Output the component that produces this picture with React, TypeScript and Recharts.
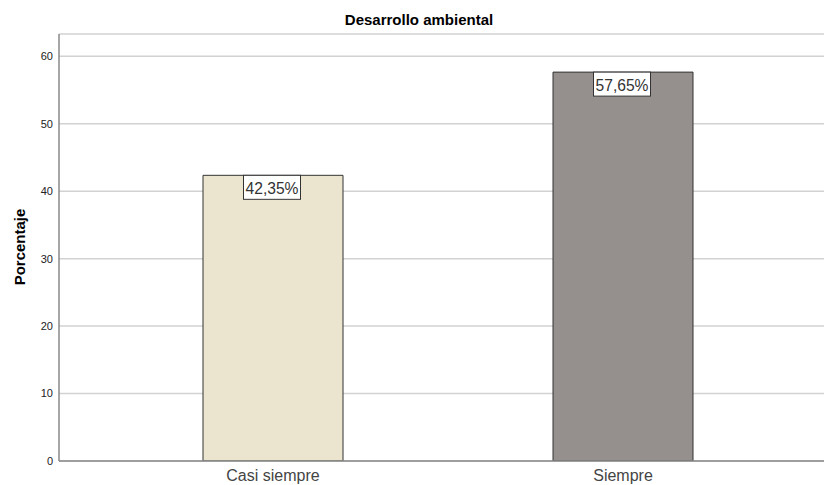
import React from 'react';
import { BarChart, Bar, XAxis, YAxis, CartesianGrid, Cell, LabelList } from 'recharts';

const categories = ['Casi siempre', 'Siempre'];
const percentages = [42.35, 57.65];
const labels = ['42,35%', '57,65%'];
const yTicks = [0, 10, 20, 30, 40, 50, 60];
const colors = ['#ebe5d0', '#958f8e'];

const data = categories.map((c, i) => ({ name: c, value: percentages[i], label: labels[i] }));

const FONT = 'Arial, "Liberation Sans", sans-serif';

const BoxLabel = (props: any) => {
  const { x, y, width, value } = props;
  const cx = x + width / 2 - 1;
  const w = 57;
  const h = 24;
  return (
    <g>
      <rect x={cx - w / 2} y={y} width={w} height={h} fill="#fff" stroke="#333" strokeWidth={1} />
      <text
        x={cx}
        y={y + 19}
        textAnchor="middle"
        fontFamily={FONT}
        fontSize={17}
        fill="#333"
        textLength={53}
        lengthAdjust="spacingAndGlyphs"
      >
        {value}
      </text>
    </g>
  );
};

export default function App() {
  return (
    <div style={{ position: 'absolute', left: 0, top: 0, background: '#fff' }}>
      <svg width={824} height={485} style={{ position: 'absolute', left: 0, top: 0, pointerEvents: 'none' }}>
        <text x={419} y={25} textAnchor="middle" fontFamily={FONT} fontSize={15} fontWeight="bold" fill="#000">
          Desarrollo ambiental
        </text>
        <text x={25} y={247} transform="rotate(-90 25 247)" textAnchor="middle" fontFamily={FONT} fontSize={15} fontWeight="bold" fill="#000">
          Porcentaje
        </text>
      </svg>
      <BarChart width={824} height={485} data={data} margin={{ top: 34, right: 0, bottom: 0, left: 0 }} barCategoryGap={105}>
        <CartesianGrid vertical={false} stroke="#d2d2d2" strokeWidth={1.5} />
        <XAxis
          dataKey="name"
          height={24}
          padding={{ left: 39, right: 26 }}
          tickLine={false}
          axisLine={{ stroke: '#888', strokeWidth: 1.5 }}
          tick={{ fontSize: 16, fill: '#444', fontFamily: FONT }}
          tickMargin={3}
        />
        <YAxis
          width={59}
          domain={[0, 63.3]}
          ticks={yTicks}
          tickLine={false}
          axisLine={{ stroke: '#888', strokeWidth: 1.5 }}
          tick={{ fontSize: 11, fill: '#222', fontFamily: FONT }}
          tickMargin={0}
          interval={0}
          allowDataOverflow
        />
        <Bar dataKey="value" isAnimationActive={false} stroke="#333" strokeWidth={1}>
          {data.map((d, i) => (
            <Cell key={d.name} fill={colors[i]} />
          ))}
          <LabelList dataKey="label" content={BoxLabel} />
        </Bar>
      </BarChart>
    </div>
  );
}
